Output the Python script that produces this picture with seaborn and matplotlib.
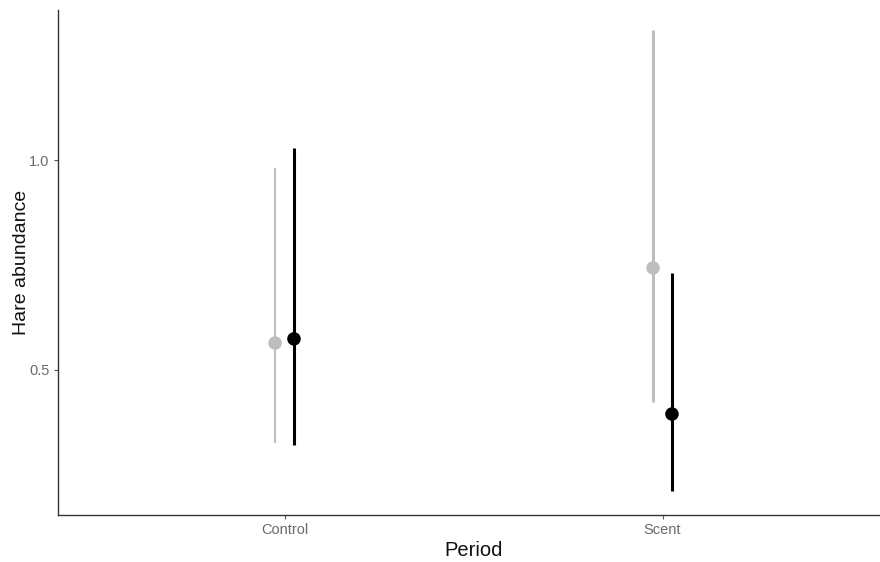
import pandas as pd
import matplotlib.pyplot as plt
import seaborn as sns

periods = ["Control", "Scent"]
groups = ["A", "B"]
colors = {"A": "#bebebe", "B": "#000000"}

# estimates and 95% intervals
mean_a = [0.564, 0.743]
low_a = [0.326, 0.424]
high_a = [0.981, 1.310]
mean_b = [0.574, 0.395]
low_b = [0.321, 0.212]
high_b = [1.029, 0.731]

df = pd.DataFrame({
    "period": periods * 2,
    "group": ["A"] * 2 + ["B"] * 2,
    "mean": mean_a + mean_b,
    "low": low_a + low_b,
    "high": high_a + high_b,
})
dodge = {"A": -0.025, "B": 0.025}
lw = {("A", "Control"): 1.5}
df["x"] = df["period"].map({p: i for i, p in enumerate(periods)}) + df["group"].map(dodge)

sns.set_style("white")
plt.rcParams["font.family"] = ["Liberation Sans", "DejaVu Sans"]

fig = plt.figure(figsize=(8.8, 5.62), dpi=100)
# right edge of the panel is cut off in the original
ax = fig.add_axes([0.0656, 0.084, 0.945, 0.898])

for _, r in df.iterrows():
    ax.vlines(r["x"], r["low"], r["high"], color=colors[r["group"]],
              linewidth=lw.get((r["group"], r["period"]), 2.2), zorder=2)
sns.scatterplot(data=df, x="x", y="mean", hue="group", palette=colors,
                s=95, edgecolor="none", legend=False, ax=ax, zorder=3)

ax.set_xlim(-0.6, 1.6)
ax.set_ylim(0.155, 1.357)
ax.set_xticks(range(len(periods)))
ax.set_xticklabels(periods)
ax.set_yticks([0.5, 1.0])
ax.set_yticklabels(["0.5", "1.0"])
ax.set_xlabel("Period", fontsize=14.5, color="#111111", labelpad=3)
ax.set_ylabel("Hare abundance", fontsize=14, color="#111111", labelpad=-1)
ax.tick_params(axis="both", labelsize=10.5, labelcolor="#6a6a6a", color="#555555",
               length=3, width=0.8, bottom=True, left=True, pad=3)
sns.despine(ax=ax)
for s in ["left", "bottom"]:
    ax.spines[s].set_color("#333333")
    ax.spines[s].set_linewidth(1.0)

fig.savefig("out.png", dpi=100)
